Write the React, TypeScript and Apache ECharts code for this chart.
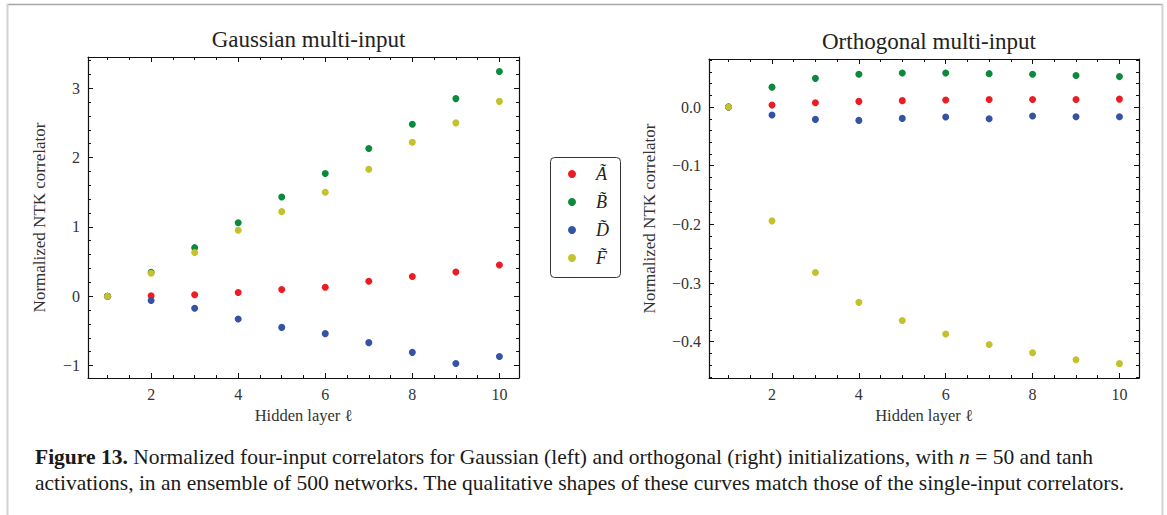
import React, { useEffect, useRef } from "react";
import * as echarts from "echarts";

const LAYERS = [1, 2, 3, 4, 5, 6, 7, 8, 9, 10];
const SERIES_NAMES = ["A\u0303", "B\u0303", "D\u0303", "F\u0303"];
const SERIES_COLORS = ["#ec1c24", "#0b8a3e", "#3552a4", "#c4c22c"];

const GAUSS_A = [0, 0.005, 0.02, 0.053, 0.096, 0.13, 0.216, 0.284, 0.35, 0.45];
const GAUSS_B = [0, 0.346, 0.7, 1.058, 1.43, 1.77, 2.13, 2.48, 2.85, 3.24];
const GAUSS_D = [0, -0.063, -0.173, -0.33, -0.45, -0.54, -0.67, -0.81, -0.97, -0.87];
const GAUSS_F = [0, 0.33, 0.63, 0.95, 1.22, 1.5, 1.83, 2.22, 2.5, 2.81];

const ORTH_A = [0, 0.0034, 0.0074, 0.0097, 0.011, 0.012, 0.013, 0.013, 0.013, 0.0136];
const ORTH_B = [0, 0.034, 0.049, 0.056, 0.058, 0.058, 0.057, 0.056, 0.054, 0.052];
const ORTH_D = [0, -0.0136, -0.021, -0.0227, -0.0193, -0.017, -0.02, -0.0153, -0.0165, -0.0165];
const ORTH_F = [0, -0.194, -0.282, -0.333, -0.364, -0.387, -0.405, -0.419, -0.431, -0.4375];

const X_MAJOR = [2, 4, 6, 8, 10];
const X_MINOR = [1, 1.5, 2, 2.5, 3, 3.5, 4, 4.5, 5, 5.5, 6, 6.5, 7, 7.5, 8, 8.5, 9, 9.5, 10];
const GAUSS_Y_MAJOR = [-1, 0, 1, 2, 3];
const GAUSS_Y_MINOR = [-1, -0.8, -0.6, -0.4, -0.2, 0, 0.2, 0.4, 0.6, 0.8, 1, 1.2, 1.4, 1.6, 1.8, 2, 2.2, 2.4, 2.6, 2.8, 3, 3.2, 3.4];
const ORTH_Y_MAJOR = [-0.4, -0.3, -0.2, -0.1, 0];
const ORTH_Y_MINOR = [-0.46, -0.44, -0.42, -0.4, -0.38, -0.36, -0.34, -0.32, -0.3, -0.28, -0.26, -0.24, -0.22, -0.2, -0.18, -0.16, -0.14, -0.12, -0.1, -0.08, -0.06, -0.04, -0.02, 0, 0.02, 0.04, 0.06, 0.08];

const TITLES = ["Gaussian multi-input", "Orthogonal multi-input"];
const X_NAME = "Hidden layer \u2113";
const Y_NAME = "Normalized NTK correlator";

const SERIF = "'Liberation Serif', 'DejaVu Serif', serif";
const AXIS_COLOR = "#111";
const TEXT_COLOR = "#333";

const fmt = (dec: number) => (v: number) => {
  const s = Math.abs(v).toFixed(dec);
  return (v < -1e-9 ? "\u2212" : "") + s;
};

function xAxes(grid: number, name: string) {
  const line = { show: true, onZero: false, lineStyle: { color: AXIS_COLOR, width: 1.2 } };
  const base = { type: "value", gridIndex: grid, min: 0.55, max: 10.45, splitLine: { show: false } };
  return [
    {
      ...base, position: "bottom", axisLine: line,
      axisTick: { show: true, inside: true, length: 5, customValues: X_MAJOR, lineStyle: { color: AXIS_COLOR } },
      axisLabel: { show: true, customValues: X_MAJOR, margin: 8, color: TEXT_COLOR, fontFamily: SERIF, fontSize: 16 },
      name, nameLocation: "middle", nameGap: 28,
      nameTextStyle: { color: TEXT_COLOR, fontFamily: SERIF, fontSize: 16.5 },
    },
    {
      ...base, position: "bottom", axisLine: { show: false, onZero: false },
      axisTick: { show: true, inside: true, length: 3, customValues: X_MINOR, lineStyle: { color: AXIS_COLOR } },
      axisLabel: { show: false },
    },
    {
      ...base, position: "top", axisLine: line,
      axisTick: { show: true, inside: true, length: 5, customValues: X_MAJOR, lineStyle: { color: AXIS_COLOR } },
      axisLabel: { show: false },
    },
    {
      ...base, position: "top", axisLine: { show: false, onZero: false },
      axisTick: { show: true, inside: true, length: 3, customValues: X_MINOR, lineStyle: { color: AXIS_COLOR } },
      axisLabel: { show: false },
    },
  ];
}

function yAxes(grid: number, min: number, max: number, major: number[], minor: number[], dec: number, nameGap: number) {
  const line = { show: true, onZero: false, lineStyle: { color: AXIS_COLOR, width: 1.2 } };
  const base = { type: "value", gridIndex: grid, min, max, splitLine: { show: false } };
  return [
    {
      ...base, position: "left", axisLine: line,
      axisTick: { show: true, inside: true, length: 5, customValues: major, lineStyle: { color: AXIS_COLOR } },
      axisLabel: { show: true, customValues: major, margin: 8, color: TEXT_COLOR, fontFamily: SERIF, fontSize: 16, formatter: fmt(dec) },
      name: Y_NAME, nameLocation: "middle", nameGap,
      nameTextStyle: { color: TEXT_COLOR, fontFamily: SERIF, fontSize: 17 },
    },
    {
      ...base, position: "left", axisLine: { show: false, onZero: false },
      axisTick: { show: true, inside: true, length: 3, customValues: minor, lineStyle: { color: AXIS_COLOR } },
      axisLabel: { show: false },
    },
    {
      ...base, position: "right", axisLine: line,
      axisTick: { show: true, inside: true, length: 5, customValues: major, lineStyle: { color: AXIS_COLOR } },
      axisLabel: { show: false },
    },
    {
      ...base, position: "right", axisLine: { show: false, onZero: false },
      axisTick: { show: true, inside: true, length: 3, customValues: minor, lineStyle: { color: AXIS_COLOR } },
      axisLabel: { show: false },
    },
  ];
}

function makeSeries(grid: number, data: number[][]) {
  return data.map((vals, k) => ({
    type: "scatter",
    name: SERIES_NAMES[k],
    xAxisIndex: grid * 4,
    yAxisIndex: grid * 4,
    symbol: "circle",
    symbolSize: 7,
    itemStyle: { color: SERIES_COLORS[k], opacity: 1 },
    data: LAYERS.map((x, i) => [x, vals[i]]),
    z: 3 + k,
  }));
}

export default function App() {
  const ref = useRef<HTMLDivElement>(null);
  useEffect(() => {
    document.body.style.margin = "0";
    const chart = echarts.init(ref.current!, null, { renderer: "svg" });
    chart.setOption({
      animation: false,
      backgroundColor: "#fff",
      title: [
        { text: TITLES[0], left: 303.5, top: 23, textAlign: "center", textStyle: { fontFamily: SERIF, fontSize: 23, fontWeight: "normal", color: "#222" } },
        { text: TITLES[1], left: 924, top: 25, textAlign: "center", textStyle: { fontFamily: SERIF, fontSize: 23, fontWeight: "normal", color: "#222" } },
      ],
      grid: [
        { left: 88, top: 57, width: 431, height: 321 },
        { left: 709, top: 59, width: 430, height: 319 },
      ],
      xAxis: [...xAxes(0, X_NAME), ...xAxes(1, X_NAME)],
      yAxis: [
        ...yAxes(0, -1.18, 3.45, GAUSS_Y_MAJOR, GAUSS_Y_MINOR, 0, 40.5),
        ...yAxes(1, -0.462, 0.082, ORTH_Y_MAJOR, ORTH_Y_MINOR, 1, 51),
      ],
      legend: {
        orient: "vertical",
        left: 568,
        top: 164,
        padding: 0,
        itemGap: 8,
        itemWidth: 8,
        itemHeight: 8,
        icon: "circle",
        data: SERIES_NAMES,
        textStyle: { fontFamily: SERIF, fontStyle: "italic", fontSize: 18, lineHeight: 20, color: "#222", padding: [0, 0, 0, 15] },
      },
      series: [
        ...makeSeries(0, [GAUSS_A, GAUSS_B, GAUSS_D, GAUSS_F]),
        ...makeSeries(1, [ORTH_A, ORTH_B, ORTH_D, ORTH_F]),
      ],
      graphic: [
        { type: "line", shape: { x1: 7, y1: 4.5, x2: 1163, y2: 4.5 }, style: { stroke: "#a6a6a6", lineWidth: 1.5 } },
        { type: "line", shape: { x1: 7.5, y1: 4, x2: 7.5, y2: 515 }, style: { stroke: "#d2d2d2", lineWidth: 2 } },
        { type: "line", shape: { x1: 1162.5, y1: 4, x2: 1162.5, y2: 515 }, style: { stroke: "#d2d2d2", lineWidth: 2 } },
        { type: "rect", shape: { x: 550.5, y: 157.5, width: 70, height: 120, r: 4 }, style: { fill: "none", stroke: "#333", lineWidth: 1 } },
        {
          type: "text",
          left: 35,
          top: 444,
          style: {
            text: "{b|Figure 13.} Normalized four-input correlators for Gaussian (left) and orthogonal (right) initializations, with {i|n} = 50 and tanh\nactivations, in an ensemble of 500 networks. The qualitative shapes of these curves match those of the single-input correlators.",
            fontFamily: SERIF,
            fontSize: 21.5,
            lineHeight: 26,
            fill: "#1a1a1a",
            rich: {
              b: { fontFamily: SERIF, fontSize: 21.5, fontWeight: "bold", fill: "#1a1a1a", lineHeight: 26 },
              i: { fontFamily: SERIF, fontSize: 21.5, fontStyle: "italic", fill: "#1a1a1a", lineHeight: 26 },
            },
          },
        },
      ],
    });
    return () => chart.dispose();
  }, []);
  return <div ref={ref} style={{ width: 1167, height: 515 }} />;
}
